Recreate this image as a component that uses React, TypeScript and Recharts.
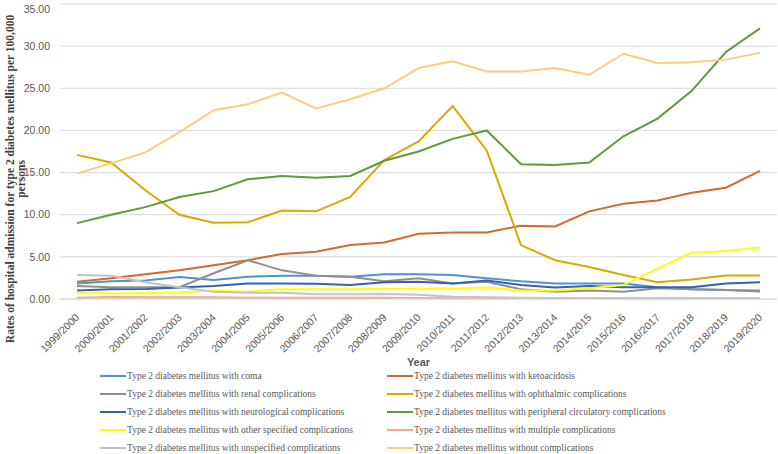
import React from 'react';
import { LineChart, Line, XAxis, YAxis, CartesianGrid } from 'recharts';

const years = ['1999/2000','2000/2001','2001/2002','2002/2003','2003/2004','2004/2005','2005/2006','2006/2007','2007/2008','2008/2009','2009/2010','2010/2011','2011/2012','2012/2013','2013/2014','2014/2015','2015/2016','2016/2017','2017/2018','2018/2019','2019/2020'];

const coma = [1.85, 2.1, 2.2, 2.6, 2.25, 2.65, 2.75, 2.75, 2.65, 2.95, 2.95, 2.85, 2.45, 2.1, 1.85, 1.85, 1.85, 1.4, 1.15, 1.07, 0.9];
const ketoacidosis = [2.05, 2.45, 2.95, 3.4, 4.0, 4.6, 5.35, 5.6, 6.4, 6.7, 7.75, 7.9, 7.9, 8.7, 8.6, 10.4, 11.3, 11.7, 12.6, 13.2, 15.2];
const renal = [1.55, 1.4, 1.4, 1.4, 3.05, 4.6, 3.4, 2.75, 2.65, 2.1, 2.45, 1.85, 2.05, 1.15, 0.87, 1.0, 0.87, 1.27, 1.15, 1.07, 1.0];
const ophthalmic = [17.1, 16.2, 12.9, 10.0, 9.05, 9.1, 10.5, 10.4, 12.1, 16.5, 18.7, 22.9, 17.6, 6.4, 4.6, 3.8, 2.85, 2.0, 2.3, 2.8, 2.8];
const neurological = [1.0, 1.15, 1.2, 1.35, 1.55, 1.85, 1.85, 1.8, 1.65, 2.0, 2.05, 1.85, 2.2, 1.65, 1.35, 1.55, 1.4, 1.4, 1.4, 1.85, 2.0];
const peripheral = [9.0, 10.0, 10.9, 12.1, 12.8, 14.2, 14.6, 14.4, 14.6, 16.4, 17.5, 19.0, 20.0, 16.0, 15.9, 16.2, 19.3, 21.4, 24.7, 29.3, 32.1];
const otherSpecified = [0.75, 0.67, 0.67, 0.78, 1.0, 0.87, 1.15, 1.15, 1.15, 1.2, 1.25, 1.25, 1.35, 1.0, 1.0, 1.27, 1.65, 3.6, 5.5, 5.7, 6.1];
const multiple = [0.15, 0.25, 0.2, 0.2, 0.2, 0.15, 0.15, 0.15, 0.15, 0.15, 0.12, 0.1, 0.1, 0.08, 0.08, 0.1, 0.08, 0.08, 0.08, 0.08, 0.08];
const unspecified = [2.85, 2.75, 2.0, 1.4, 0.87, 0.75, 0.75, 0.55, 0.55, 0.6, 0.5, 0.27, 0.2, 0.15, 0.12, 0.12, 0.1, 0.1, 0.1, 0.1, 0.1];
const withoutComp = [14.9, 16.1, 17.4, 19.8, 22.4, 23.1, 24.5, 22.6, 23.7, 25.0, 27.4, 28.2, 27.0, 27.0, 27.4, 26.6, 29.1, 28.0, 28.1, 28.4, 29.2];

const yTicks = [0, 5, 10, 15, 20, 25, 30, 35];

const series = [
  { key: 'coma', name: 'Type 2 diabetes mellitus with coma', values: coma, color: '#4F93D0' },
  { key: 'keto', name: 'Type 2 diabetes mellitus with ketoacidosis', values: ketoacidosis, color: '#D5692A' },
  { key: 'renal', name: 'Type 2 diabetes mellitus with renal complications', values: renal, color: '#8F8F8F' },
  { key: 'oph', name: 'Type 2 diabetes mellitus with ophthalmic complications', values: ophthalmic, color: '#DBA800' },
  { key: 'neuro', name: 'Type 2 diabetes mellitus with neurological complications', values: neurological, color: '#3462AE' },
  { key: 'peri', name: 'Type 2 diabetes mellitus with peripheral circulatory complications', values: peripheral, color: '#5F9A3D' },
  { key: 'other', name: 'Type 2 diabetes mellitus with other specified complications', values: otherSpecified, color: '#FFFF00' },
  { key: 'mult', name: 'Type 2 diabetes mellitus with multiple complications', values: multiple, color: '#F4A88A' },
  { key: 'unsp', name: 'Type 2 diabetes mellitus with unspecified complications', values: unspecified, color: '#C3C3C3' },
  { key: 'without', name: 'Type 2 diabetes mellitus without complications', values: withoutComp, color: '#FFCC80' },
];

const data = years.map((y, i) => {
  const row: any = { year: y };
  series.forEach(s => { row[s.key] = s.values[i]; });
  return row;
});

const XTick = (props: any) => {
  const { x, y, payload } = props;
  return (
    <text
      x={0}
      y={0}
      transform={`translate(${x + 3},${y + 11}) rotate(-45)`}
      textAnchor="end"
      fontSize={10.5}
      fontFamily="'Liberation Sans', Arial, sans-serif"
      fill="#595959"
    >
      {payload.value}
    </text>
  );
};

const YTick = (props: any) => {
  const { y, payload } = props;
  return (
    <text x={50} y={y} dy="0.35em" textAnchor="end" fontSize={10.5}
      fontFamily="'Liberation Sans', Arial, sans-serif" fill="#595959">
      {Number(payload.value).toFixed(2)}
    </text>
  );
};

const YTitle = () => {
  const cy = 179;
  return (
    <g>
      <text x={0} y={0} transform={`translate(10,${cy}) rotate(-90)`} textAnchor="middle"
        dominantBaseline="central" fontSize={11.5} fontWeight="bold"
        fontFamily="'Liberation Serif', 'Times New Roman', serif" fill="#404040">
        Rates of hospital admission for type 2 diabetes mellitus per 100,000
      </text>
      <text x={0} y={0} transform={`translate(21,${cy}) rotate(-90)`} textAnchor="middle"
        dominantBaseline="central" fontSize={11.5} fontWeight="bold"
        fontFamily="'Liberation Serif', 'Times New Roman', serif" fill="#404040">
        persons
      </text>
    </g>
  );
};

const XTitle = (props: any) => {
  const vb = props.viewBox || { x: 60, width: 717 };
  return (
    <text x={vb.x + vb.width / 2} y={362} dy="0.35em" textAnchor="middle" fontSize={11}
      fontWeight="bold" fontFamily="'Liberation Sans', Arial, sans-serif" fill="#595959">
      Year
    </text>
  );
};

export default function App() {
  const rowsY = [376, 394, 412, 430, 448];
  return (
    <div style={{ position: 'absolute', left: 0, top: 0, width: 778, height: 454, background: '#fff' }}>
      <LineChart width={778} height={454} data={data} margin={{ top: 4, right: 1, left: 0, bottom: 0 }}>
        <CartesianGrid vertical={false} stroke="#D9D9D9" strokeWidth={1} />
        <XAxis dataKey="year" height={155} padding={{ left: 17, right: 17 }} interval={0}
          tickLine={false} axisLine={{ stroke: '#D9D9D9' }} tick={<XTick />} label={<XTitle />} />
        <YAxis width={60} domain={[0, 35]} ticks={yTicks} tickLine={false} axisLine={false}
          tick={<YTick />} label={<YTitle />} />
        {series.map(s => (
          <Line key={s.key} dataKey={s.key} name={s.name} stroke={s.color} strokeWidth={2}
            dot={false} activeDot={false} isAnimationActive={false} type="linear" />
        ))}
      </LineChart>
      <svg width={778} height={454} style={{ position: 'absolute', left: 0, top: 0, pointerEvents: 'none' }}>
        {series.map((s, i) => {
          const col = i % 2;
          const row = Math.floor(i / 2);
          const lx = col === 0 ? 100 : 387;
          const y = rowsY[row];
          return (
            <g key={s.key}>
              <line x1={lx} x2={lx + 26} y1={y} y2={y} stroke={s.color} strokeWidth={2} />
              <text x={lx + 27} y={y} dy="0.35em" fontSize={9.5}
                fontFamily="'Liberation Serif', 'Times New Roman', serif" fill="#595959">
                {s.name}
              </text>
            </g>
          );
        })}
      </svg>
    </div>
  );
}
